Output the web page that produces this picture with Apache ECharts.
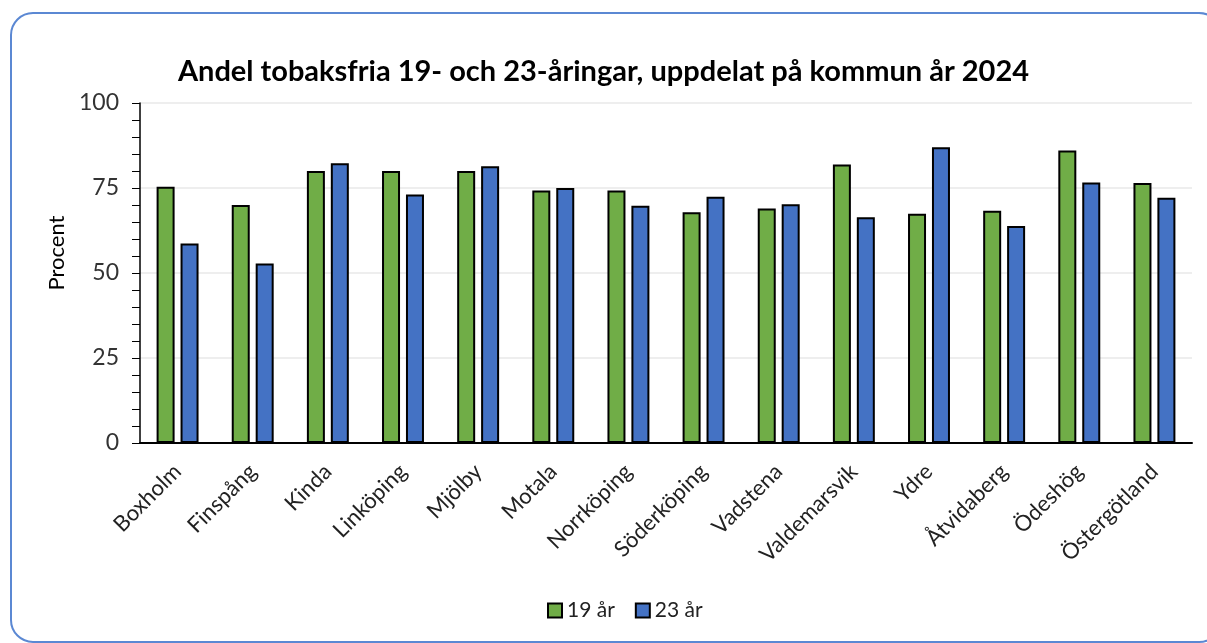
<!DOCTYPE html>
<html>
<head>
<meta charset="utf-8">
<script src="https://cdn.jsdelivr.net/npm/echarts@6/dist/echarts.min.js"></script>
<style>
html,body{margin:0;padding:0;background:#fff;}
#c{width:1207px;height:643px;}
</style>
</head>
<body>
<div id="c"></div>
<script>
const categories = ["Boxholm","Finspång","Kinda","Linköping","Mjölby","Motala","Norrköping","Söderköping","Vadstena","Valdemarsvik","Ydre","Åtvidaberg","Ödeshög","Östergötland"];
const values19 = [75.4, 70.0, 80.0, 80.0, 80.0, 74.3, 74.3, 67.9, 69.0, 81.9, 67.4, 68.3, 86.0, 76.5];
const values23 = [58.7, 52.8, 82.3, 73.1, 81.4, 75.0, 69.8, 72.4, 70.2, 66.4, 87.0, 63.8, 76.6, 72.1];
const seriesNames = ["19 år", "23 år"];
const yTicks = [0, 25, 50, 75, 100];
const titleText = "Andel tobaksfria 19- och 23-åringar, uppdelat på kommun år 2024";
const yAxisName = "Procent";

const FONT = "Lato, 'Open Sans', sans-serif";
const chart = echarts.init(document.getElementById('c'), null, {renderer: 'canvas'});
chart.setOption({
  animation: false,
  backgroundColor: '#ffffff',
  graphic: [{
    type: 'rect',
    shape: {x: 11, y: 13, width: 1210, height: 629, r: 22},
    style: {fill: 'none', stroke: '#5b88d3', lineWidth: 2},
    z: 0
  }],
  title: {
    text: titleText,
    left: 'center',
    top: 52,
    textStyle: {fontFamily: FONT, fontSize: 29, fontWeight: 'bold', color: '#000'}
  },
  legend: {
    data: seriesNames,
    bottom: 17,
    left: 542,
    itemWidth: 14,
    itemHeight: 14,
    itemGap: 20,
    icon: 'rect',
    textStyle: {fontFamily: FONT, fontSize: 21, color: '#222'}
  },
  grid: {left: 140, right: 15, top: 103, bottom: 200},
  xAxis: {
    type: 'category',
    data: categories,
    axisLine: {lineStyle: {color: '#000', width: 2}},
    axisTick: {alignWithLabel: true, length: 6, lineStyle: {color: '#000', width: 2}},
    axisLabel: {rotate: 45, fontFamily: FONT, fontSize: 22, color: '#222', margin: 25, interval: 0}
  },
  yAxis: {
    type: 'value',
    min: yTicks[0],
    max: yTicks[yTicks.length - 1],
    interval: 25,
    name: yAxisName,
    nameLocation: 'middle',
    nameGap: 69,
    nameTextStyle: {fontFamily: FONT, fontSize: 22, color: '#000', padding: [0, 0, 0, 40]},
    axisLine: {show: true, lineStyle: {color: '#000', width: 1.5}},
    axisTick: {show: true, inside: false, length: 8, lineStyle: {color: '#000', width: 1}},
    minorTick: {show: true, splitNumber: 5, length: 8, lineStyle: {color: '#000', width: 1}},
    axisLabel: {fontFamily: FONT, fontSize: 23, color: '#333', margin: 21},
    splitLine: {lineStyle: {color: '#eeeeee', width: 2}}
  },
  series: [
    {
      name: seriesNames[0], type: 'bar', data: values19,
      barWidth: 18, barGap: '33%',
      itemStyle: {color: '#70ad47', borderColor: '#000', borderWidth: 2}
    },
    {
      name: seriesNames[1], type: 'bar', data: values23,
      barWidth: 18,
      itemStyle: {color: '#4472c4', borderColor: '#000', borderWidth: 2}
    }
  ]
});
</script>
</body>
</html>
